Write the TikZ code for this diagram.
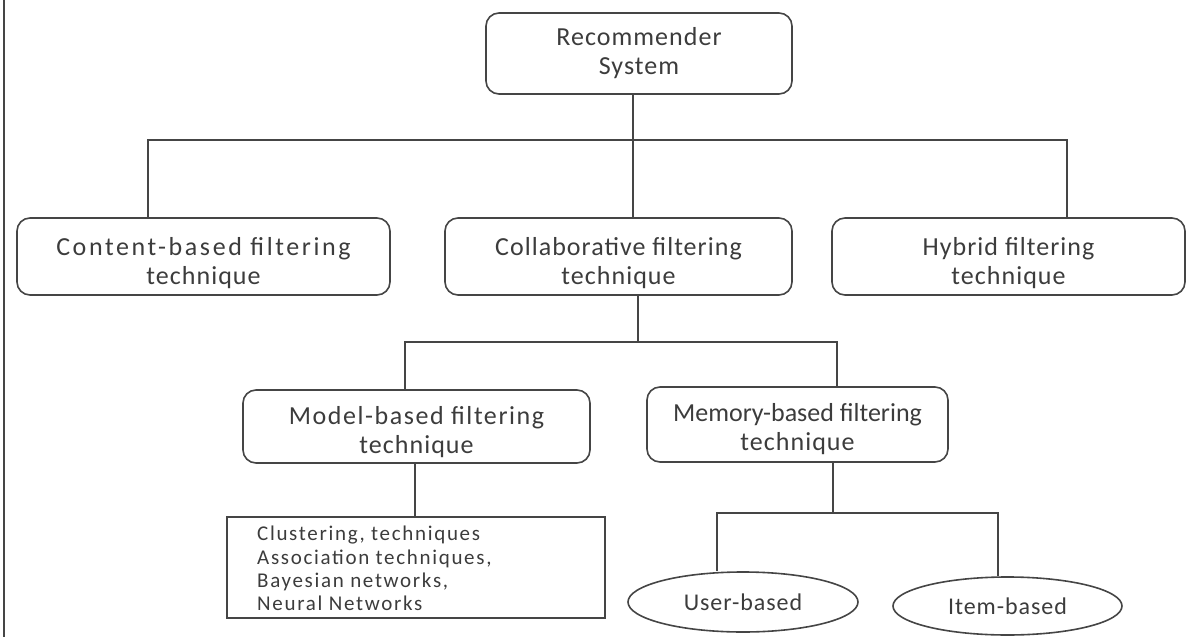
\documentclass[tikz,border=0pt]{standalone}
\usepackage{fontspec}
\setmainfont{Carlito}
\usetikzlibrary{shapes.geometric}
\definecolor{linec}{HTML}{454545}
\definecolor{textc}{HTML}{3C3C3C}
\tikzset{
  conn/.style={draw=linec, line width=1.6pt},
  rbox/.style={draw=linec, line width=1.6pt, rounded corners=13pt, align=center, text=textc,
    font=\fontsize{26}{29}\selectfont\addfontfeatures{LetterSpace=4}, inner sep=0pt},
  lowered/.style={text height=#1, text depth=5pt},
  stext/.style={align=left, text=textc,
    font=\fontsize{21}{23.3}\selectfont\addfontfeatures{LetterSpace=8}, inner sep=0pt},
  ell/.style={ellipse, draw=linec, line width=1.6pt, text=textc,
    font=\fontsize{24}{26}\selectfont\addfontfeatures{LetterSpace=4}, inner sep=0pt},
}
\begin{document}
\begin{tikzpicture}[x=1pt,y=-1pt]
\useasboundingbox (0,0) rectangle (1203,637);
\coordinate (bt) at (4,0);
\coordinate (bb) at (4,637);
\draw[conn] (bt) -- (bb);

\node[rbox, minimum width=306pt, minimum height=81pt] (rec) at (639,53.5) {Recommender\\System};
\node[rbox, lowered=60pt, minimum width=373pt, minimum height=77pt] (content) at (203.5,256.5) {{\addfontfeatures{LetterSpace=10}Content-based filtering}\\technique};
\node[rbox, lowered=60pt, minimum width=347pt, minimum height=77pt] (collab) at (618.5,256.5) {Collaborative filtering\\technique};
\node[rbox, lowered=60pt, minimum width=353pt, minimum height=77pt] (hybrid) at (1008.5,256.5) {Hybrid filtering\\technique};
\node[rbox, lowered=58pt, minimum width=347pt, minimum height=73pt] (model) at (416.5,426.5) {{\addfontfeatures{LetterSpace=6}Model-based filtering}\\technique};
\node[rbox, lowered=56pt, minimum width=301pt, minimum height=75pt] (memory) at (797.5,424.5) {{\addfontfeatures{LetterSpace=0}Memory-based filtering}\\technique};
\node[draw=linec, line width=1.6pt, minimum width=378pt, minimum height=101pt] (rect) at (416,567.5) {};
\node[stext, anchor=west] (rtext) at (257,568.5) {Clustering, techniques\\Association techniques,\\Bayesian networks,\\Neural Networks};
\node[ell, minimum width=230pt, minimum height=60pt] (user) at (743,602) {User-based};
\node[ell, minimum width=229pt, minimum height=58pt] (item) at (1007.5,606) {Item-based};

\coordinate (j1) at (633,140);
\coordinate (hl) at (148,140);
\coordinate (hr) at (1067,140);
\draw[conn] (rec.south -| j1) -- (collab.north -| j1);
\draw[conn] (content.north -| hl) -- (hl) -- (hr) -- (hybrid.north -| hr);

\coordinate (j2) at (638,342);
\coordinate (ml) at (405,342);
\coordinate (mr) at (837,342);
\draw[conn] (collab.south -| j2) -- (j2);
\draw[conn] (model.north -| ml) -- (ml) -- (mr) -- (memory.north -| mr);

\coordinate (j3) at (415,500);
\draw[conn] (model.south -| j3) -- (rect.north -| j3);

\coordinate (j4) at (833,513);
\coordinate (ul) at (717,513);
\coordinate (ur) at (998,513);
\draw[conn] (memory.south -| j4) -- (j4);
\draw[conn] (ul |- user.north) -- (ul) -- (ur) -- (ur |- item.north);
\end{tikzpicture}
\end{document}
